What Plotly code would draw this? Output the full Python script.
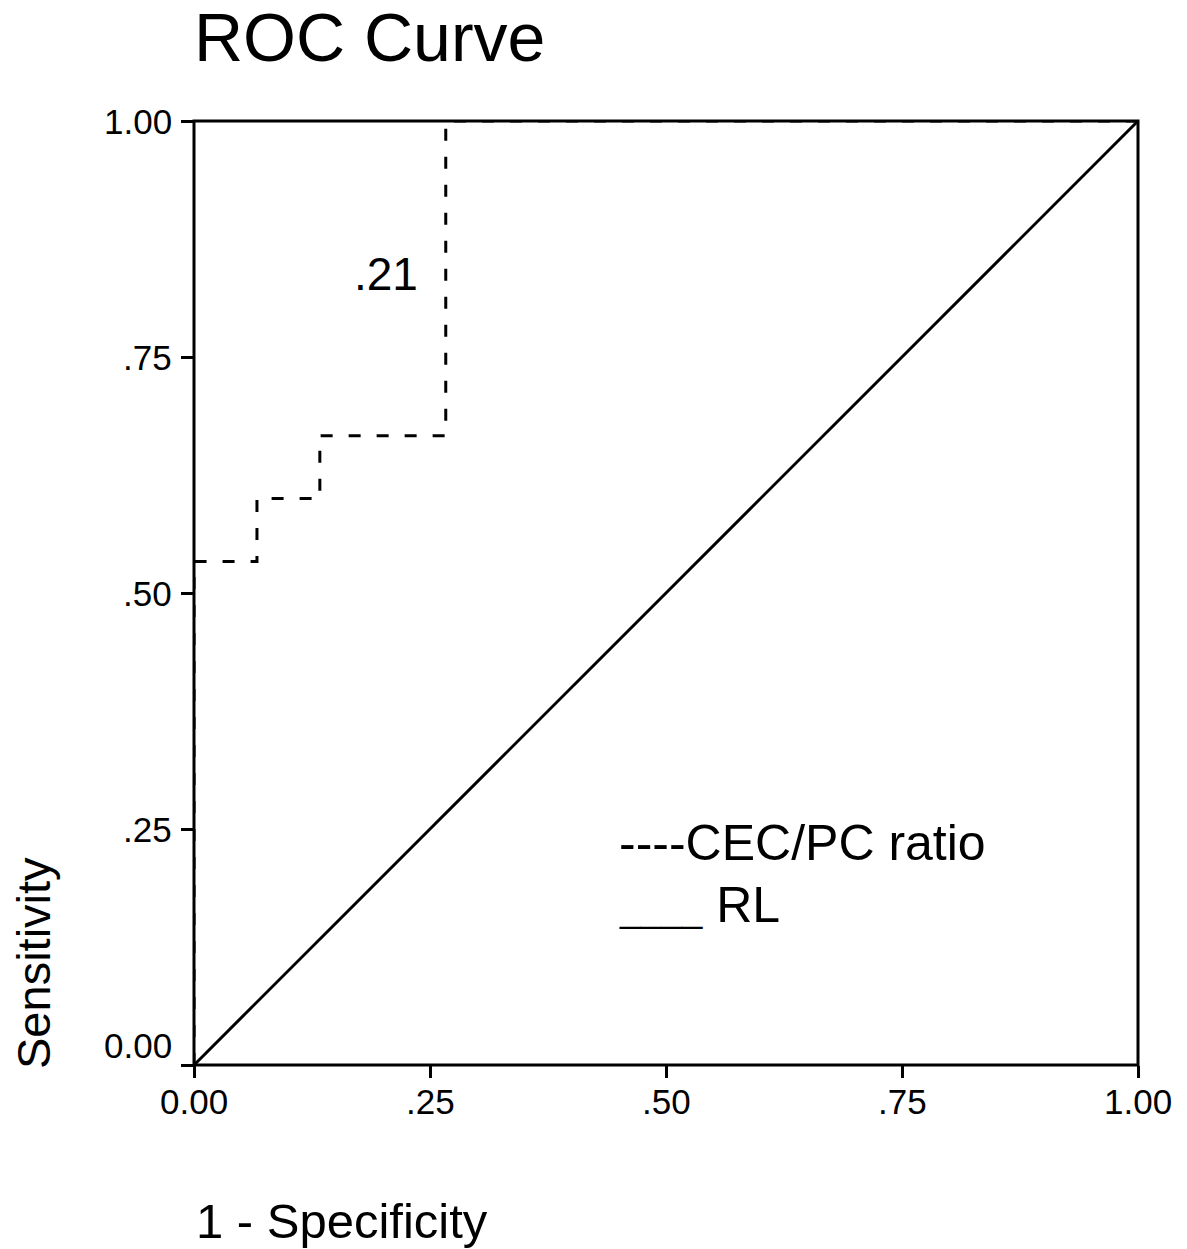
import plotly.graph_objects as go

# ROC curve data (1 - specificity, sensitivity)
roc_fpr = [0.0, 0.0, 0.0667, 0.0667, 0.1333, 0.1333, 0.2667, 0.2667, 1.0]
roc_tpr = [0.0, 0.5333, 0.5333, 0.6, 0.6, 0.6667, 0.6667, 1.0, 1.0]
ref_x = [0.0, 1.0]
ref_y = [0.0, 1.0]

tick_vals = [0.0, 0.25, 0.5, 0.75, 1.0]
x_tick_text = ["0.00", ".25", ".50", ".75", "1.00"]
y_tick_text = ["0.00", ".25", ".50", ".75", "1.00"]

FONT = "Liberation Sans, Arial, sans-serif"

# plot area geometry (pixels)
L, R, T, B = 194, 49, 121, 184
W, H = 1187, 1249
PW = W - L - R
PH = H - T - B

fig = go.Figure()
fig.add_trace(go.Scatter(x=roc_fpr, y=roc_tpr, mode="lines",
                         line=dict(color="black", width=3, dash="12px,16px"),
                         showlegend=False))
fig.add_trace(go.Scatter(x=ref_x, y=ref_y, mode="lines",
                         line=dict(color="black", width=3),
                         showlegend=False))

annotations = []
for v, t in zip(tick_vals, y_tick_text):
    annotations.append(dict(x=0, xref="paper", y=v, yref="y", text=t,
                            showarrow=False, xanchor="right", yanchor="middle",
                            xshift=-20, yshift=(20 if v == 0 else 0),
                            font=dict(size=35, color="black", family=FONT)))
for v, t in zip(tick_vals, x_tick_text):
    annotations.append(dict(x=v, xref="x", y=0, yref="paper", text=t,
                            showarrow=False, xanchor="center", yanchor="middle",
                            yshift=-36,
                            font=dict(size=35, color="black", family=FONT)))
annotations += [
    dict(x=0.203, xref="x", y=0.838, yref="y", text=".21", showarrow=False,
         font=dict(size=46, color="black", family=FONT)),
    dict(x=0.448, xref="x", y=0.235, yref="y", text="----CEC/PC ratio", showarrow=False,
         xanchor="left", yanchor="middle", font=dict(size=50, color="black", family=FONT)),
    dict(x=0.448, xref="x", y=0.17, yref="y",
         text="<span style='font-size:37px'>____</span> RL", showarrow=False,
         xanchor="left", yanchor="middle", font=dict(size=50, color="black", family=FONT)),
    dict(x=0, xref="paper", y=(H - B - 1221) / PH, yref="paper", text="1 - Specificity",
         showarrow=False, xanchor="left", yanchor="middle",
         font=dict(size=49, color="black", family=FONT)),
    dict(x=(33 - L) / PW, xref="paper", y=0, yref="paper",
         text="Sensitivity", textangle=-90, showarrow=False,
         xanchor="center", yanchor="bottom", yshift=-6,
         font=dict(size=47, color="black", family=FONT)),
]

fig.update_layout(
    width=W, height=H,
    paper_bgcolor="white", plot_bgcolor="white",
    margin=dict(l=L, r=R, t=T, b=B),
    font=dict(family=FONT, color="black"),
    title=dict(text="ROC Curve", x=0, xref="paper", xanchor="left",
               y=1 - 37 / H, yref="container", yanchor="middle",
               font=dict(size=68, color="black", family=FONT)),
    annotations=annotations,
    shapes=[dict(type="rect", xref="paper", yref="paper", x0=0, x1=1, y0=0, y1=1,
                 line=dict(color="black", width=3), fillcolor="rgba(0,0,0,0)",
                 layer="above")],
)
fig.update_xaxes(range=[0, 1], tickvals=tick_vals, showticklabels=False,
                 showgrid=False, zeroline=False, showline=False,
                 ticks="outside", ticklen=12, tickwidth=3, tickcolor="black")
fig.update_yaxes(range=[0, 1], tickvals=tick_vals, showticklabels=False,
                 showgrid=False, zeroline=False, showline=False,
                 ticks="outside", ticklen=12, tickwidth=3, tickcolor="black")

fig.write_html("out.html", config={"displayModeBar": False},
               post_script="document.body.style.margin='0';document.body.style.overflow='hidden';")
